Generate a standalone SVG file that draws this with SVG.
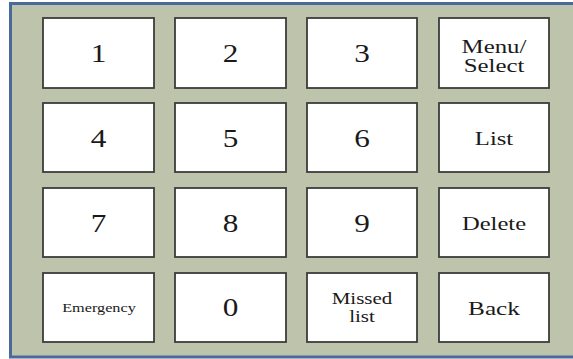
<svg xmlns="http://www.w3.org/2000/svg" width="573" height="359" viewBox="0 0 573 359">
<style>
.key{fill:#ffffff;stroke:#3c3c3a;stroke-width:1.8}
.t text{fill:#1a1a1a;text-anchor:middle}
.d{font-size:25px}
.w{font-size:18.5px}
.m{font-size:16px}
.s{font-size:12.5px}
</style>
<rect x="0" y="0" width="573" height="359" fill="#ffffff"/>
<rect x="10.5" y="3.5" width="570" height="353.5" fill="#bec3ab" stroke="#4a6a9a" stroke-width="3"/>
<g class="t" font-family="'Liberation Serif', 'DejaVu Serif', 'Times New Roman', serif">
<g id="key-1"><rect class="key" x="43" y="18" width="111" height="70"/><text class="d" transform="translate(98.5 62) scale(1.25 1)">1</text></g>
<g id="key-2"><rect class="key" x="175" y="18" width="111" height="70"/><text class="d" transform="translate(230.5 62) scale(1.25 1)">2</text></g>
<g id="key-3"><rect class="key" x="307" y="18" width="110" height="70"/><text class="d" transform="translate(362 62) scale(1.25 1)">3</text></g>
<g id="key-menu"><rect class="key" x="439" y="18" width="110" height="70"/><text class="w" style="font-size:18px" transform="translate(494 52.5) scale(1.38 1)">Menu/</text><text class="w" style="font-size:18px" transform="translate(494 71.5) scale(1.38 1)">Select</text></g>
<g id="key-4"><rect class="key" x="43" y="103" width="111" height="69"/><text class="d" transform="translate(98.5 146.5) scale(1.25 1)">4</text></g>
<g id="key-5"><rect class="key" x="175" y="103" width="111" height="69"/><text class="d" transform="translate(230.5 146.5) scale(1.25 1)">5</text></g>
<g id="key-6"><rect class="key" x="307" y="103" width="110" height="69"/><text class="d" transform="translate(362 146.5) scale(1.25 1)">6</text></g>
<g id="key-list"><rect class="key" x="439" y="103" width="110" height="69"/><text class="w" transform="translate(494 144.7) scale(1.33 1)">List</text></g>
<g id="key-7"><rect class="key" x="43" y="188" width="111" height="69"/><text class="d" transform="translate(98.5 231.5) scale(1.25 1)">7</text></g>
<g id="key-8"><rect class="key" x="175" y="188" width="111" height="69"/><text class="d" transform="translate(230.5 231.5) scale(1.25 1)">8</text></g>
<g id="key-9"><rect class="key" x="307" y="188" width="110" height="69"/><text class="d" transform="translate(362 231.5) scale(1.25 1)">9</text></g>
<g id="key-delete"><rect class="key" x="439" y="188" width="110" height="69"/><text class="w" transform="translate(494 229.7) scale(1.33 1)">Delete</text></g>
<g id="key-emergency"><rect class="key" x="43" y="273" width="111" height="69"/><text class="s" transform="translate(99 312) scale(1.3 1)">Emergency</text></g>
<g id="key-0"><rect class="key" x="175" y="273" width="111" height="69"/><text class="d" transform="translate(230.5 316) scale(1.25 1)">0</text></g>
<g id="key-missed"><rect class="key" x="307" y="273" width="110" height="69"/><text class="m" transform="translate(362 304) scale(1.31 1)">Missed</text><text class="m" transform="translate(362 321.5) scale(1.31 1)">list</text></g>
<g id="key-back"><rect class="key" x="439" y="273" width="110" height="69"/><text class="w" style="font-size:19px" transform="translate(494 314.5) scale(1.33 1)">Back</text></g>
</g>
<g id="connectors"></g>
</svg>
